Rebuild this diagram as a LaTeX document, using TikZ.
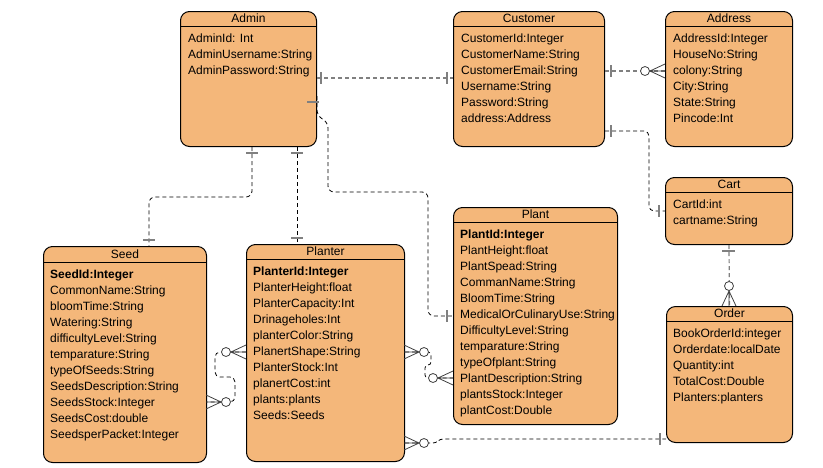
\documentclass[tikz,border=0pt]{standalone}
\usepackage{fontspec}
\setmainfont{Liberation Sans}
\usetikzlibrary{positioning}
\definecolor{entityfill}{RGB}{244,183,122}
\definecolor{markgray}{RGB}{128,128,128}

\begin{document}
\begin{tikzpicture}[
x=1pt, y=-1pt,
entity/.style={
draw,
line width=1pt,
rounded corners=9pt,
fill=entityfill,
anchor=north west,
inner sep=0pt
},
headtext/.style={anchor=base, inner sep=0pt, font=\fontsize{12}{14}\selectfont},
attrlist/.style={anchor=north west, align=left, inner sep=0pt, font=\fontsize{12}{16}\selectfont},
rel/.style={dash pattern=on 4pt off 3pt, line width=0.8pt},
relgray/.style={rel, draw=markgray, line width=1.2pt},
onebar/.style={draw=markgray, line width=1.5pt},
manyfoot/.style={draw=black!75, line width=0.8pt},
zerocirc/.style={draw=black!75, line width=0.8pt, fill=white}
]
\useasboundingbox (0,0) rectangle (823,467);

% entities
\node[entity, minimum width=136, minimum height=135] (admin) at (180,11) {};
\node[headtext] (admintitle) at ([yshift=-11.5pt]admin.north) {Admin};
\draw[line width=1pt] ([yshift=-15pt]admin.north west) -- ([yshift=-15pt]admin.north east);
\node[attrlist] (adminattrs) at ([xshift=8pt,yshift=-23pt]admin.north west)
{AdminId: Int\\AdminUsername:String\\AdminPassword:String};

\node[entity, minimum width=151, minimum height=135] (customer) at (453,11) {};
\node[headtext] (customertitle) at ([yshift=-11.5pt]customer.north) {Customer};
\draw[line width=1pt] ([yshift=-15pt]customer.north west) -- ([yshift=-15pt]customer.north east);
\node[attrlist] (customerattrs) at ([xshift=8pt,yshift=-23pt]customer.north west)
{CustomerId:Integer\\CustomerName:String\\CustomerEmail:String\\Username:String\\Password:String\\address:Address};

\node[entity, minimum width=127, minimum height=135] (address) at (665,11) {};
\node[headtext] (addresstitle) at ([yshift=-11.5pt]address.north) {Address};
\draw[line width=1pt] ([yshift=-15pt]address.north west) -- ([yshift=-15pt]address.north east);
\node[attrlist] (addressattrs) at ([xshift=8pt,yshift=-23pt]address.north west)
{AddressId:Integer\\HouseNo:String\\colony:String\\City:String\\State:String\\Pincode:Int};

\node[entity, minimum width=127, minimum height=67] (cart) at (665,177) {};
\node[headtext] (carttitle) at ([yshift=-11.5pt]cart.north) {Cart};
\draw[line width=1pt] ([yshift=-15pt]cart.north west) -- ([yshift=-15pt]cart.north east);
\node[attrlist] (cartattrs) at ([xshift=8pt,yshift=-23pt]cart.north west)
{CartId:int\\cartname:String};

\node[entity, minimum width=163, minimum height=216] (seed) at (43,246) {};
\node[headtext] (seedtitle) at ([yshift=-12pt]seed.north) {Seed};
\draw[line width=1pt] ([yshift=-16pt]seed.north west) -- ([yshift=-16pt]seed.north east);
\node[attrlist] (seedattrs) at ([xshift=7pt,yshift=-24pt]seed.north west)
{\textbf{SeedId:Integer}\\CommonName:String\\bloomTime:String\\Watering:String\\difficultyLevel:String\\temparature:String\\typeOfSeeds:String\\SeedsDescription:String\\SeedsStock:Integer\\SeedsCost:double\\SeedsperPacket:Integer};

\node[entity, minimum width=158, minimum height=217] (planter) at (246,244) {};
\node[headtext] (plantertitle) at ([yshift=-11.5pt]planter.north) {Planter};
\draw[line width=1pt] ([yshift=-15pt]planter.north west) -- ([yshift=-15pt]planter.north east);
\node[attrlist] (planterattrs) at ([xshift=7pt,yshift=-23pt]planter.north west)
{\textbf{PlanterId:Integer}\\PlanterHeight:float\\PlanterCapacity:Int\\Drinageholes:Int\\planterColor:String\\PlanertShape:String\\PlanterStock:Int\\planertCost:int\\plants:plants\\Seeds:Seeds};

\node[entity, minimum width=164, minimum height=217] (plant) at (453,207) {};
\node[headtext] (planttitle) at ([yshift=-11.5pt]plant.north) {Plant};
\draw[line width=1pt] ([yshift=-15pt]plant.north west) -- ([yshift=-15pt]plant.north east);
\node[attrlist] (plantattrs) at ([xshift=7pt,yshift=-23pt]plant.north west)
{\textbf{PlantId:Integer}\\PlantHeight:float\\PlantSpead:String\\CommanName:String\\BloomTime:String\\MedicalOrCulinaryUse:String\\DifficultyLevel:String\\temparature:String\\typeOfplant:String\\PlantDescription:String\\plantsStock:Integer\\plantCost:Double};

\node[entity, minimum width=126, minimum height=136] (order) at (666,306) {};
\node[headtext] (ordertitle) at ([yshift=-11.5pt]order.north) {Order};
\draw[line width=1pt] ([yshift=-15pt]order.north west) -- ([yshift=-15pt]order.north east);
\node[attrlist] (orderattrs) at ([xshift=7pt,yshift=-23pt]order.north west)
{BookOrderId:integer\\Orderdate:localDate\\Quantity:int\\TotalCost:Double\\Planters:planters};

% Admin - Customer
\draw[relgray] (admin.east |- 0,78) -- (customer.west |- 0,78);
\draw[onebar] (321,72) -- (321,84);
\draw[onebar] (447,72) -- (447,84);

% Admin - Plant
\draw[rel, rounded corners=6pt] (admin.east |- 0,96) -- (admin.east |- 0,116) -- (328,122)
-- (328,192) -- (428,192) -- (428,316) -- (plant.west |- 0,316);
\draw[onebar] (307,102) -- (319,102);
\draw[onebar] (447,310) -- (447,322);

% Admin - Seed
\draw[rel, rounded corners=6pt] (252,0 |- admin.south) -- (252,197) -- (149,197) -- (149,0 |- seed.north);
\draw[onebar] (246,153) -- (258,153);
\draw[onebar] (143,240) -- (155,240);

% Admin - Planter
\draw[rel] (297,0 |- admin.south) -- (297,0 |- planter.north);
\draw[onebar] (291,153) -- (303,153);
\draw[onebar] (291,238) -- (303,238);

% Customer - Address
\draw[relgray] (customer.east |- 0,71) -- (address.west |- 0,71);
\draw[onebar] (611,65) -- (611,77);
\draw[manyfoot] (665,64) -- (650,71) -- (665,78) (650,71) -- (665,71);
\draw[zerocirc] (645,71) circle[radius=4.5];

% Customer - Cart
\draw[rel, rounded corners=5pt] (customer.east |- 0,131) -- (649,131) -- (649,211) -- (cart.west |- 0,211);
\draw[onebar] (611,125) -- (611,137);
\draw[onebar] (659,205) -- (659,217);

% Cart - Order
\draw[relgray] (cart.south) -- (order.north);
\draw[onebar] (722,251) -- (735,251);
\draw[manyfoot] (722,306) -- (729,291) -- (736,306) (729,291) -- (729,306);
\draw[zerocirc] (729,286) circle[radius=4.5];

% Seed - Planter
\draw[rel, rounded corners=5pt] (planter.west |- 0,352) -- (215,352) -- (215,377) -- (235,377)
-- (235,402) -- (seed.east |- 0,402);
\draw[manyfoot] (246,345) -- (231,352) -- (246,359) (231,352) -- (246,352);
\draw[zerocirc] (226,352) circle[radius=4.5];
\draw[manyfoot] (206,395) -- (221,402) -- (206,409) (221,402) -- (206,402);
\draw[zerocirc] (226,402) circle[radius=4.5];

% Planter - Plant
\draw[rel, rounded corners=3pt] (planter.east |- 0,352) -- (431,352) -- (431,365) -- (425,365)
-- (425,378) -- (plant.west |- 0,378);
\draw[manyfoot] (404,345) -- (419,352) -- (404,359) (419,352) -- (404,352);
\draw[zerocirc] (424,352) circle[radius=4.5];
\draw[manyfoot] (453,371) -- (438,378) -- (453,385) (438,378) -- (453,378);
\draw[zerocirc] (433,378) circle[radius=4.5];

% Planter - Order
\draw[rel, rounded corners=3pt] (planter.east |- 0,443) -- (436,443) -- (440,439) -- (order.west |- 0,439);
\draw[manyfoot] (404,436) -- (419,443) -- (404,450) (419,443) -- (404,443);
\draw[zerocirc] (424,443) circle[radius=4.5];
\draw[onebar] (660,433) -- (660,445);

\end{tikzpicture}
\end{document}
